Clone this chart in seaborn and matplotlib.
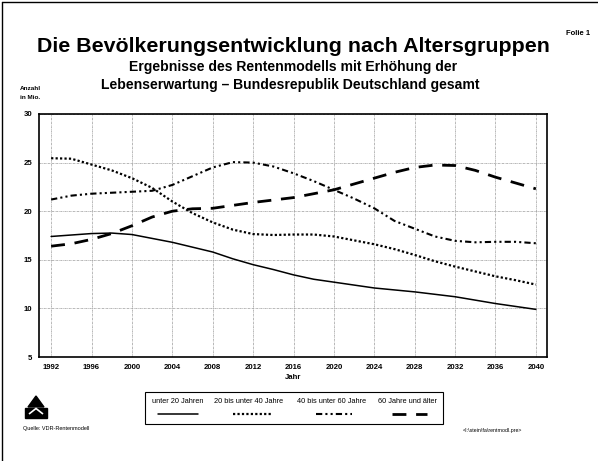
import matplotlib
matplotlib.use("Agg")
import matplotlib.pyplot as plt
from matplotlib.lines import Line2D
from matplotlib.patches import Rectangle, Polygon
from matplotlib.ticker import MultipleLocator
import seaborn as sns
import pandas as pd

# Values (Mio. persons), every 2 years
years = list(range(1992, 2041, 2))
unter_20 = [17.4, 17.55, 17.7, 17.75, 17.6, 17.2, 16.8, 16.3, 15.8, 15.1, 14.5, 14.0, 13.45,
            13.0, 12.7, 12.4, 12.1, 11.9, 11.7, 11.45, 11.2, 10.85, 10.5, 10.2, 9.9]
bis_40 = [25.45, 25.4, 24.8, 24.2, 23.4, 22.4, 21.0, 19.8, 18.85, 18.1, 17.65, 17.55, 17.6,
          17.6, 17.4, 17.0, 16.6, 16.1, 15.5, 14.85, 14.3, 13.8, 13.3, 12.9, 12.45]
bis_60 = [21.2, 21.6, 21.8, 21.9, 22.0, 22.1, 22.7, 23.6, 24.5, 25.05, 25.0, 24.6, 23.9,
          23.1, 22.2, 21.3, 20.3, 19.0, 18.2, 17.4, 16.95, 16.8, 16.85, 16.85, 16.7]
ab_60 = [16.4, 16.65, 17.1, 17.7, 18.5, 19.4, 20.0, 20.25, 20.3, 20.6, 20.9, 21.15, 21.4,
         21.8, 22.2, 22.8, 23.4, 24.0, 24.5, 24.75, 24.7, 24.2, 23.5, 22.9, 22.3]

labels = ["unter 20 Jahren", "20 bis unter 40 Jahre", "40 bis unter 60 Jahre", "60 Jahre und älter"]
series = [unter_20, bis_40, bis_60, ab_60]
styles = [
    dict(linestyle="-", linewidth=1.1),
    dict(linestyle=(0, (1, 1)), linewidth=1.6),
    dict(linestyle=(0, (3, 1.5, 1, 1.5, 1, 1.5)), linewidth=1.5),
    dict(linestyle=(0, (5, 3.5)), linewidth=2.0),
]

df = pd.DataFrame({"Jahr": years})
for lab, vals in zip(labels, series):
    df[lab] = vals

sns.set_style("white")
plt.rcParams["font.family"] = ["Liberation Sans", "DejaVu Sans"]
plt.rcParams["text.color"] = "black"
plt.rcParams["axes.labelcolor"] = "black"
plt.rcParams["xtick.color"] = "black"
plt.rcParams["ytick.color"] = "black"

fig = plt.figure(figsize=(5.98, 4.61), dpi=100)
ax = fig.add_axes([39 / 598, 1 - 357 / 461, (547 - 39) / 598, (357 - 114) / 461])

for lab, st in zip(labels, styles):
    sns.lineplot(data=df, x="Jahr", y=lab, ax=ax, color="black", label=lab, legend=False, **st)

ax.set_xlim(1990.8, 2041.1)
ax.set_ylim(5, 30)
ax.set_xticks(range(1992, 2041, 4))
ax.set_yticks(range(5, 31, 5))
ax.xaxis.set_minor_locator(MultipleLocator(1))
ax.yaxis.set_minor_locator(MultipleLocator(2.5))
ax.tick_params(axis="both", which="major", direction="in", length=3, width=0.8,
               labelsize=5.6, pad=5)
ax.tick_params(axis="both", which="minor", direction="in", length=2, width=0.6)
for t in ax.get_xticklabels() + ax.get_yticklabels():
    t.set_fontweight("bold")
ax.grid(True, which="major", color="#9a9a9a", linewidth=0.5, linestyle=(0, (3, 1, 1, 1)))
for sp in ax.spines.values():
    sp.set_visible(True)
    sp.set_color("black")
    sp.set_linewidth(1.2)
ax.set_xlabel("Jahr", fontsize=5.6, fontweight="bold", labelpad=2)
ax.set_ylabel("")

# Titles and annotations
fig.text(293 / 598, 1 - 47 / 461, "Die Bevölkerungsentwicklung nach Altersgruppen",
         ha="center", va="center", fontsize=15.4, fontweight="bold")
fig.text(293 / 598, 1 - 67 / 461, "Ergebnisse des Rentenmodells mit Erhöhung der",
         ha="center", va="center", fontsize=10.1, fontweight="bold")
fig.text(290 / 598, 1 - 85 / 461, "Lebenserwartung – Bundesrepublik Deutschland gesamt",
         ha="center", va="center", fontsize=10.1, fontweight="bold")
fig.text(566 / 598, 1 - 33 / 461, "Folie 1", ha="left", va="center", fontsize=5.5, fontweight="bold")
fig.text(20 / 598, 1 - 88 / 461, "Anzahl", ha="left", va="center", fontsize=4.6, fontweight="bold")
fig.text(20 / 598, 1 - 97 / 461, "in Mio.", ha="left", va="center", fontsize=4.6, fontweight="bold")
fig.text(23 / 598, 1 - 428 / 461, "Quelle: VDR-Rentenmodell", ha="left", va="center", fontsize=4)
fig.text(463 / 598, 1 - 430 / 461, "<I:\\stein\\fa\\rentmodl.pre>", ha="left", va="center", fontsize=3.8)

# Page frame (left and top edges)
fig.add_artist(Line2D([2 / 598, 2 / 598], [0, 1 - 2 / 461], transform=fig.transFigure,
                      color="black", linewidth=1.0))
fig.add_artist(Line2D([2 / 598, 1], [1 - 2 / 461, 1 - 2 / 461], transform=fig.transFigure,
                      color="black", linewidth=1.0))

# VDR logo
def fx(px):
    return px / 598

def fy(py):
    return 1 - py / 461

fig.add_artist(Polygon([(fx(36), fy(396)), (fx(28), fy(407)), (fx(44), fy(407))],
                       closed=True, transform=fig.transFigure, color="black"))
fig.add_artist(Polygon([(fx(25), fy(408)), (fx(47), fy(408)), (fx(47), fy(418)), (fx(25), fy(418))],
                       closed=True, transform=fig.transFigure, color="black"))
fig.add_artist(Polygon([(fx(29), fy(414)), (fx(36), fy(408.5)), (fx(43), fy(414))],
                       closed=False, fill=False, transform=fig.transFigure, edgecolor="white",
                       linewidth=1.2))

# Legend box with text above line samples
fig.add_artist(Rectangle((fx(145), fy(424)), fx(443) - fx(145), fy(392) - fy(424),
                         transform=fig.transFigure, fill=False, edgecolor="black", linewidth=0.8))
text_x = [178, 249, 332, 408]
line_x = [(158, 198), (233, 273), (316, 352), (392, 427)]
for lab, st, tx, (x0, x1) in zip(labels, styles, text_x, line_x):
    fig.text(fx(tx), fy(401), lab, ha="center", va="center", fontsize=5.3)
    fig.add_artist(Line2D([fx(x0), fx(x1)], [fy(414), fy(414)], transform=fig.transFigure,
                          color="black", **st))

fig.savefig("out.png", dpi=100)
